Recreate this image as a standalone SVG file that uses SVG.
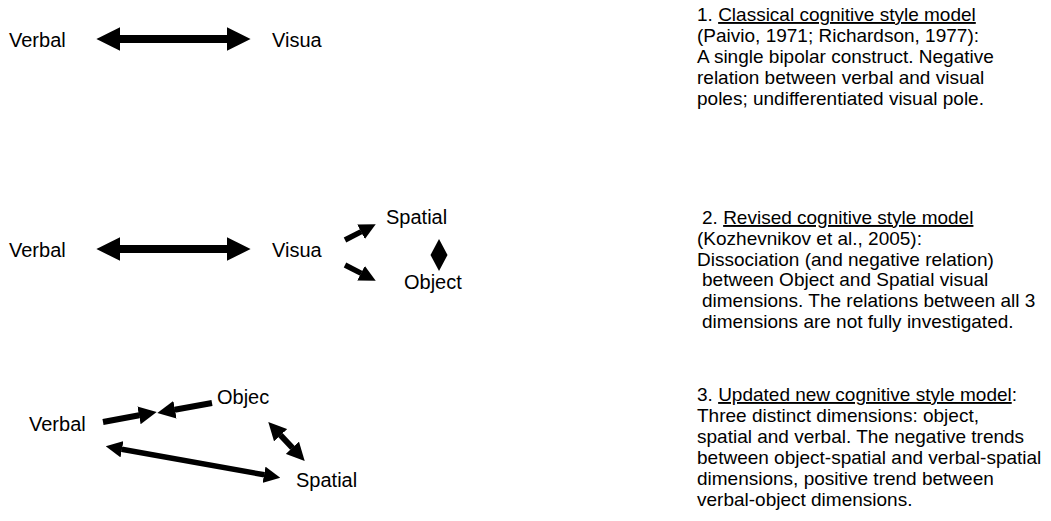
<svg xmlns="http://www.w3.org/2000/svg" width="1051" height="521" viewBox="0 0 1051 521">
  <style>
    .label { font-family: "Liberation Sans", Arial, sans-serif; font-size: 20px; fill: #000; }
    .desc { font-family: "Liberation Sans", Arial, sans-serif; font-size: 19px; fill: #000; }
    .u { text-decoration: underline; }
    .arrow { stroke: #000; fill: none; marker-end: url(#head); }
    .both { marker-start: url(#head); }
  </style>
  <defs>
    <marker id="head" viewBox="0 0 3 3" refX="0.05" refY="1.5" markerWidth="3" markerHeight="3" orient="auto-start-reverse">
      <path d="M0,0 L3,1.5 L0,3 z" fill="#000"/>
    </marker>
  </defs>
  <rect width="1051" height="521" fill="#fff"/>

  <!-- Model 1: bipolar construct -->
  <g id="m1-verbal"><text class="label" x="9" y="47">Verbal</text></g>
  <g id="m1-visual"><text class="label" x="272" y="47">Visua</text></g>

  <!-- Model 2: revised model -->
  <g id="m2-verbal"><text class="label" x="9" y="257">Verbal</text></g>
  <g id="m2-visual"><text class="label" x="272" y="257">Visua</text></g>
  <g id="m2-spatial"><text class="label" x="386" y="224">Spatial</text></g>
  <g id="m2-object"><text class="label" x="404" y="289">Object</text></g>

  <!-- Model 3: updated model -->
  <g id="m3-verbal"><text class="label" x="29" y="431">Verbal</text></g>
  <g id="m3-object"><text class="label" x="217" y="404">Objec</text></g>
  <g id="m3-spatial"><text class="label" x="296" y="487">Spatial</text></g>

  <g id="connectors">
    <line class="arrow both" x1="120" y1="39" x2="227" y2="39" stroke-width="8"/>
    <line class="arrow both" x1="120" y1="249" x2="227" y2="249" stroke-width="8"/>
    <line class="arrow" x1="345" y1="240" x2="361.3" y2="231.6" stroke-width="5.5"/>
    <line class="arrow" x1="345" y1="265" x2="361.3" y2="273.4" stroke-width="5.5"/>
    <polygon points="439,239 447.5,255 439,271 430.5,255" fill="#000"/>
    <line class="arrow" x1="103" y1="422" x2="139.3" y2="415.3" stroke-width="6"/>
    <line class="arrow" x1="212" y1="403" x2="174.7" y2="409.8" stroke-width="6"/>
    <line class="arrow both" x1="280.4" y1="435" x2="292.6" y2="448" stroke-width="6"/>
    <line class="arrow both" x1="121.7" y1="449.2" x2="264.3" y2="474.8" stroke-width="5.5"/>
  </g>

  <!-- Descriptions -->
  <g id="desc1">
    <text class="desc" x="697" y="21">1. <tspan class="u">Classical cognitive style model</tspan></text>
    <text class="desc" x="697" y="42">(Paivio, 1971; Richardson, 1977):</text>
    <text class="desc" x="697" y="63">A single bipolar construct. Negative</text>
    <text class="desc" x="697" y="84">relation between verbal and visual</text>
    <text class="desc" x="697" y="105">poles; undifferentiated visual pole.</text>
  </g>
  <g id="desc2">
    <text class="desc" x="702" y="224">2. <tspan class="u">Revised cognitive style model</tspan></text>
    <text class="desc" x="697" y="244.8">(Kozhevnikov et al., 2005):</text>
    <text class="desc" x="697" y="265.6">Dissociation (and negative relation)</text>
    <text class="desc" x="702" y="286.4">between Object and Spatial visual</text>
    <text class="desc" x="702" y="307.2">dimensions. The relations between all 3</text>
    <text class="desc" x="702" y="328">dimensions are not fully investigated.</text>
  </g>
  <g id="desc3">
    <text class="desc" x="697" y="401">3. <tspan class="u">Updated new cognitive style model</tspan>:</text>
    <text class="desc" x="697" y="422">Three distinct dimensions: object,</text>
    <text class="desc" x="697" y="443">spatial and verbal. The negative trends</text>
    <text class="desc" x="697" y="464">between object-spatial and verbal-spatial</text>
    <text class="desc" x="697" y="485">dimensions, positive trend between</text>
    <text class="desc" x="697" y="506">verbal-object dimensions.</text>
  </g>
</svg>
